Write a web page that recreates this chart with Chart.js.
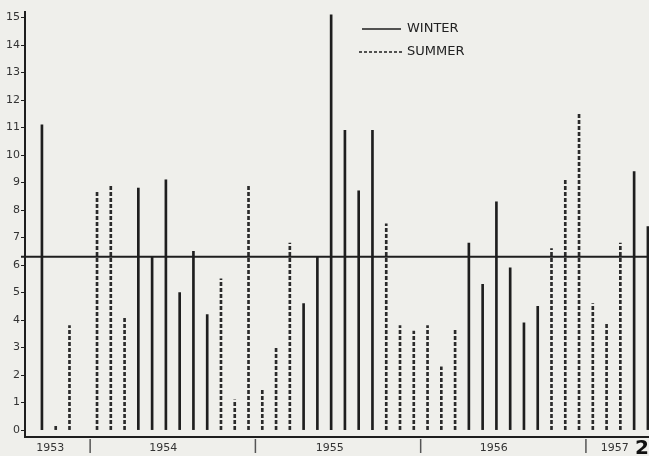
<!DOCTYPE html>
<html>
<head>
<meta charset="utf-8">
<script src="https://cdn.jsdelivr.net/npm/chart.js@4"></script>
<style>
  html, body { margin: 0; padding: 0; background: #efefeb; }
  canvas { display: block; }
</style>
</head>
<body>
<canvas id="rain" width="649" height="456"></canvas>
<script>
// monthly values, Sep 1953 - May 1957 (Dec 1953 missing)
const months = [
  'Sep 1953', 'Oct 1953', 'Nov 1953', 'Dec 1953',
  'Jan 1954', 'Feb 1954', 'Mar 1954', 'Apr 1954', 'May 1954', 'Jun 1954',
  'Jul 1954', 'Aug 1954', 'Sep 1954', 'Oct 1954', 'Nov 1954', 'Dec 1954',
  'Jan 1955', 'Feb 1955', 'Mar 1955', 'Apr 1955', 'May 1955', 'Jun 1955',
  'Jul 1955', 'Aug 1955', 'Sep 1955', 'Oct 1955', 'Nov 1955', 'Dec 1955',
  'Jan 1956', 'Feb 1956', 'Mar 1956', 'Apr 1956', 'May 1956', 'Jun 1956',
  'Jul 1956', 'Aug 1956', 'Sep 1956', 'Oct 1956', 'Nov 1956', 'Dec 1956',
  'Jan 1957', 'Feb 1957', 'Mar 1957', 'Apr 1957', 'May 1957'
];

const winter = [
  11.1, null, null, null,
  null, null, null, 8.8, 6.3, 9.1, 5.0, 6.5, 4.2, null, null, null,
  null, null, null, 4.6, 6.3, 15.1, 10.9, 8.7, 10.9, null, null, null,
  null, null, null, 6.8, 5.3, 8.3, 5.9, 3.9, 4.5, null, null, null,
  null, null, null, 9.4, 7.4
];

const summer = [
  null, 0.2, 3.8, null,
  8.7, 8.9, 4.1, null, null, null, null, null, null, 5.5, 1.1, 8.9,
  1.5, 3.0, 6.8, null, null, null, null, null, null, 7.5, 3.8, 3.6,
  3.8, 2.3, 3.7, null, null, null, null, null, null, 6.6, 9.1, 11.5,
  4.6, 3.9, 6.8, null, null
];

const meanLevel = 6.3;

const yearLabels = ['1953', '1954', '1955', '1956', '1957'];
const yearTickAt = [0.6, 8.8, 20.9, 32.8, 41.6];   // month index where the year label sits
const yearBreaks = [3.5, 15.5, 27.5, 39.5];        // Dec/Jan boundaries

const ink = '#1e1e1e';

// dashed bars: a small repeating dash pattern used as the bar fill
function dashPattern(color) {
  const c = document.createElement('canvas');
  c.width = 4;
  c.height = 6;
  const g = c.getContext('2d');
  g.fillStyle = color;
  g.fillRect(0, 0, 4, 4);
  return g.createPattern(c, 'repeat');
}

function toPoints(arr) {
  return arr.map((v, i) => ({ x: i, y: v })).filter(p => p.y !== null);
}

const ctx = document.getElementById('rain').getContext('2d');

new Chart(ctx, {
  type: 'bar',
  data: {
    datasets: [
      {
        label: 'WINTER',
        data: toPoints(winter),
        backgroundColor: ink,
        borderWidth: 0,
        barThickness: 2,
        grouped: false
      },
      {
        label: 'SUMMER',
        data: toPoints(summer),
        backgroundColor: dashPattern('#2a2a2a'),
        borderWidth: 0,
        barThickness: 2,
        grouped: false
      }
    ]
  },
  options: {
    responsive: false,
    animation: false,
    layout: { padding: { top: 12, left: 0, right: 0, bottom: 0 } },
    plugins: {
      legend: { display: false },
      tooltip: {
        callbacks: {
          title: items => months[items[0].raw.x]
        }
      }
    },
    scales: {
      x: {
        type: 'linear',
        offset: false,
        min: -1.23,
        max: 44.08,
        afterBuildTicks: scale => {
          scale.ticks = yearTickAt.map(v => ({ value: v }));
        },
        afterFit: scale => { scale.height = 19; },
        grid: { display: false, drawTicks: false },
        border: { display: true, color: ink, width: 2 },
        ticks: {
          autoSkip: false,
          maxRotation: 0,
          includeBounds: false,
          padding: 5,
          color: '#333',
          font: { family: 'DejaVu Sans', size: 11 },
          callback: (value, i) => yearLabels[i]
        }
      },
      y: {
        min: -0.25,
        max: 15.2,
        afterFit: scale => { scale.width = 25; },
        grid: { drawOnChartArea: false, tickLength: 4, color: ink, lineWidth: 1 },
        border: { display: true, color: ink, width: 2 },
        ticks: {
          stepSize: 1,
          includeBounds: false,
          padding: 1,
          color: '#333',
          font: { family: 'DejaVu Sans', size: 11 }
        }
      }
    }
  },
  plugins: [
    {
      id: 'extras',
      afterDatasetsDraw(chart) {
        const c = chart.ctx;
        const area = chart.chartArea;
        const xs = chart.scales.x;
        const ys = chart.scales.y;

        c.save();

        // mean level line across the whole width
        const yMean = ys.getPixelForValue(meanLevel);
        c.strokeStyle = ink;
        c.lineWidth = 2;
        c.beginPath();
        c.moveTo(area.left - 4, yMean);
        c.lineTo(chart.width, yMean);
        c.stroke();

        // year separators below the axis
        c.strokeStyle = '#555';
        c.lineWidth = 1.5;
        yearBreaks.forEach(b => {
          const x = xs.getPixelForValue(b);
          c.beginPath();
          c.moveTo(x, area.bottom + 2);
          c.lineTo(x, area.bottom + 16);
          c.stroke();
        });

        // legend
        c.fillStyle = '#222';
        c.font = '13px "DejaVu Sans"';
        c.textBaseline = 'middle';
        c.strokeStyle = ink;
        c.lineWidth = 1.5;
        c.beginPath();
        c.moveTo(362, 29);
        c.lineTo(401, 29);
        c.stroke();
        c.fillText('WINTER', 407, 29);

        c.setLineDash([3, 2]);
        c.beginPath();
        c.moveTo(359, 52);
        c.lineTo(402, 52);
        c.stroke();
        c.setLineDash([]);
        c.fillText('SUMMER', 407, 52);

        // page number
        c.font = 'bold 20px "DejaVu Sans"';
        c.fillStyle = '#111';
        c.textBaseline = 'alphabetic';
        c.fillText('2', 635, 454);

        c.restore();
      }
    }
  ]
});
</script>
</body>
</html>
